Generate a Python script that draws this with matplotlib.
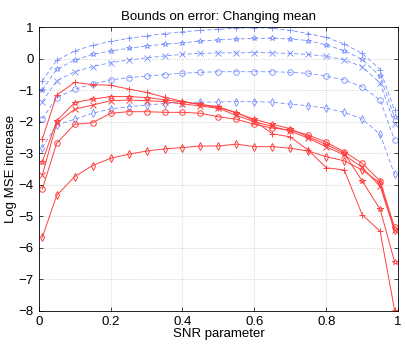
import matplotlib
matplotlib.use("Agg")
import matplotlib.pyplot as plt

plt.rcParams['font.family'] = ['Liberation Sans', 'DejaVu Sans']

# SNR parameter values (x axis)
snr = [0.01, 0.05, 0.1, 0.15, 0.2, 0.25, 0.3, 0.35, 0.4, 0.45, 0.5,
       0.55, 0.6, 0.65, 0.7, 0.75, 0.8, 0.85, 0.9, 0.95, 0.99]

# upper bounds (blue, dashed)
blue_plus = [-0.70, -0.05, 0.25, 0.43, 0.55, 0.65, 0.73, 0.80, 0.86, 0.90, 0.94,
             0.97, 0.99, 0.97, 0.90, 0.80, 0.68, 0.47, 0.17, -0.34, -1.63]
blue_star = [-0.99, -0.33, -0.04, 0.14, 0.25, 0.33, 0.41, 0.46, 0.51, 0.56, 0.60,
             0.63, 0.65, 0.65, 0.63, 0.58, 0.44, 0.26, -0.02, -0.55, -1.86]
blue_x = [-1.36, -0.70, -0.41, -0.25, -0.12, -0.04, 0.03, 0.09, 0.14, 0.17, 0.19,
          0.19, 0.20, 0.19, 0.17, 0.14, 0.08, -0.03, -0.25, -0.77, -2.07]
blue_circ = [-1.91, -1.23, -0.97, -0.80, -0.67, -0.60, -0.55, -0.50, -0.46, -0.43, -0.41,
             -0.41, -0.41, -0.41, -0.43, -0.46, -0.55, -0.67, -0.89, -1.31, -2.58]
blue_diam = [-2.82, -2.10, -1.92, -1.73, -1.59, -1.52, -1.47, -1.42, -1.39, -1.38, -1.37,
             -1.36, -1.36, -1.38, -1.44, -1.49, -1.57, -1.70, -1.91, -2.40, -3.67]

# lower bounds (red, solid)
red_plus = [-2.55, -1.15, -0.75, -0.82, -0.84, -0.96, -1.07, -1.22, -1.35, -1.45, -1.55,
            -1.70, -1.97, -2.38, -2.48, -2.90, -3.46, -3.53, -4.95, -5.48, -7.97]
red_star = [-3.27, -1.97, -1.39, -1.28, -1.20, -1.20, -1.23, -1.30, -1.37, -1.45, -1.52,
            -1.72, -1.92, -2.08, -2.22, -2.48, -2.72, -3.00, -3.88, -4.78, -6.44]
red_x = [-3.69, -2.05, -1.60, -1.47, -1.33, -1.31, -1.33, -1.36, -1.43, -1.50, -1.57,
         -1.80, -2.00, -2.15, -2.30, -2.52, -2.80, -3.05, -3.45, -4.05, -5.45]
red_circ = [-4.14, -2.68, -2.08, -2.03, -1.73, -1.68, -1.68, -1.70, -1.70, -1.73, -1.84,
            -1.92, -2.08, -2.20, -2.26, -2.42, -2.65, -2.95, -3.32, -3.88, -5.35]
red_diam = [-5.67, -4.34, -3.74, -3.39, -3.16, -3.03, -2.93, -2.86, -2.82, -2.77, -2.77,
            -2.71, -2.79, -2.79, -2.84, -2.93, -3.11, -3.24, -3.53, -3.95, -5.45]

markers = ['+', '*', 'x', 'o', 'd']
blue_series = [blue_plus, blue_star, blue_x, blue_circ, blue_diam]
red_series = [red_plus, red_star, red_x, red_circ, red_diam]

fig = plt.figure(figsize=(4.05, 3.44), dpi=100)
ax = fig.add_axes([0.0956, 0.0968, 0.8874, 0.8238])

blue = (0.45, 0.55, 1.0)
red = (1.0, 0.25, 0.25)
for m, ys in zip(markers, blue_series):
    ax.plot(snr, ys, linestyle=(0, (5, 3)), color=blue, linewidth=0.6,
            marker=m, markersize=4, markerfacecolor='none', markeredgewidth=0.6)
for m, ys in zip(markers, red_series):
    ax.plot(snr, ys, linestyle='-', color=red, linewidth=0.7,
            marker=m, markersize=4, markerfacecolor='none', markeredgewidth=0.7)

ax.set_xlim(0, 1)
ax.set_ylim(-8, 1)
ax.set_xticks([0, 0.2, 0.4, 0.6, 0.8, 1])
ax.set_xticklabels(['0', '0.2', '0.4', '0.6', '0.8', '1'])
ax.set_yticks(range(-8, 2))
ax.set_yticklabels(['\u2212%d' % -v if v < 0 else str(v) for v in range(-8, 2)])
ax.grid(True, linestyle=(0, (1, 2)), color='0.7', linewidth=0.5)
ax.tick_params(direction='in', length=3, labelsize=9.5, width=0.5, top=True, right=True)
for s in ax.spines.values():
    s.set_linewidth(0.6)

ax.set_xlabel('SNR parameter', fontsize=9.5, labelpad=0)
ax.set_ylabel('Log MSE increase', fontsize=9.5, labelpad=1)
ax.set_title('Bounds on error: Changing mean', fontsize=9.5, pad=5)

fig.savefig('out.png', dpi=100)
